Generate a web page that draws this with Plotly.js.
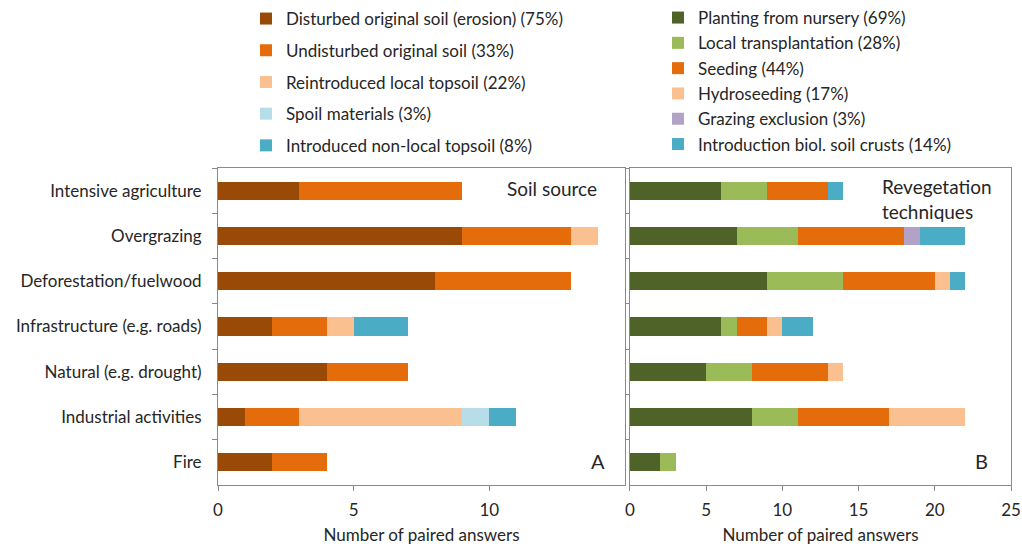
<!DOCTYPE html>
<html>
<head>
<meta charset="utf-8">
<script src="https://cdn.plot.ly/plotly-3.0.1.min.js"></script>
<style>html,body{margin:0;padding:0;background:#fff;}#chart{width:1022px;height:547px;}</style>
</head>
<body>
<div id="chart"></div>
<script>
// Categories (top to bottom)
const categories = ['Intensive agriculture','Overgrazing','Deforestation/fuelwood','Infrastructure (e.g. roads)','Natural (e.g. drought)','Industrial activities','Fire'];

// Panel A: soil source
const soilNames = ['Disturbed original soil (erosion) (75%)','Undisturbed original soil (33%)','Reintroduced local topsoil (22%)','Spoil materials (3%)','Introduced non-local topsoil (8%)'];
const disturbed    = [3, 9, 8, 2, 4, 1, 2];
const undisturbed  = [6, 4, 5, 2, 3, 2, 2];
const reintroduced = [0, 1, 0, 1, 0, 6, 0];
const spoil        = [0, 0, 0, 0, 0, 1, 0];
const nonLocal     = [0, 0, 0, 2, 0, 1, 0];

// Panel B: revegetation techniques
const revegNames = ['Planting from nursery (69%)','Local transplantation (28%)','Seeding (44%)','Hydroseeding (17%)','Grazing exclusion (3%)','Introduction biol. soil crusts (14%)'];
const planting   = [6, 7, 9, 6, 5, 8, 2];
const transplant = [3, 4, 5, 1, 3, 3, 1];
const seeding    = [4, 7, 6, 2, 5, 6, 0];
const hydro      = [0, 0, 1, 1, 1, 5, 0];
const grazing    = [0, 1, 0, 0, 0, 0, 0];
const crusts     = [1, 3, 1, 2, 0, 0, 0];

const soilColors  = ['#9A4A07','#E46C0A','#FAC090','#B7DEE8','#4BACC6'];
const revegColors = ['#4F6228','#9BBB59','#E46C0A','#FAC090','#B3A2C7','#4BACC6'];

const soilSeries  = [disturbed, undisturbed, reintroduced, spoil, nonLocal];
const revegSeries = [planting, transplant, seeding, hydro, grazing, crusts];

const traces = [];
soilSeries.forEach((vals, i) => {
  traces.push({
    type: 'bar', orientation: 'h', x: vals, y: categories, name: soilNames[i],
    xaxis: 'x', yaxis: 'y', legend: 'legend', legendgroup: 'a' + i,
    marker: {color: soilColors[i], line: {width: 0}}, hoverinfo: 'x+y+name'
  });
});
revegSeries.forEach((vals, i) => {
  traces.push({
    type: 'bar', orientation: 'h', x: vals, y: categories, name: revegNames[i],
    xaxis: 'x2', yaxis: 'y2', legend: 'legend2', legendgroup: 'b' + i,
    marker: {color: revegColors[i], line: {width: 0}}, hoverinfo: 'x+y+name'
  });
});

const axisColor = '#8a8a8a';
const textColor = '#262626';
const fontFam = 'Lato, "Open Sans", sans-serif';

// plot area: left 218, right 1011, top 168, bottom 485
const pxX = px => (px - 218) / 793;
const pxY = py => (485 - py) / 317;

const layout = {
  width: 1022, height: 547,
  margin: {l: 218, r: 11, t: 168, b: 62, autoexpand: false},
  paper_bgcolor: '#fff', plot_bgcolor: '#fff',
  barmode: 'stack', bargap: 0.6,
  font: {family: fontFam, size: 16, color: textColor},
  xaxis: {
    domain: [0, 0.5132], range: [0, 15], tickvals: [0, 5, 10],
    ticks: 'outside', ticklen: 5, tickcolor: axisColor,
    showline: true, linecolor: axisColor, mirror: true, showgrid: false, zeroline: false,
    tickfont: {size: 17, color: textColor}, ticklabelstandoff: 5,
    title: {text: 'Number of paired answers', font: {size: 17, color: textColor}, standoff: 9}
  },
  yaxis: {
    type: 'category', autorange: 'reversed', anchor: 'x',
    tickson: 'boundaries', ticks: 'outside', ticklen: 5, tickcolor: axisColor,
    showline: true, linecolor: axisColor, mirror: true, showgrid: false,
    tickfont: {size: 17, color: textColor}, ticklabelstandoff: 12
  },
  xaxis2: {
    domain: [0.5195, 1], range: [0, 25], dtick: 5, anchor: 'y2',
    ticks: 'outside', ticklen: 5, tickcolor: axisColor,
    showline: true, linecolor: axisColor, mirror: true, showgrid: false, zeroline: false,
    tickfont: {size: 17, color: textColor}, ticklabelstandoff: 5,
    title: {text: 'Number of paired answers', font: {size: 17, color: textColor}, standoff: 9}
  },
  yaxis2: {
    type: 'category', autorange: 'reversed', anchor: 'x2',
    tickson: 'boundaries', ticks: 'outside', ticklen: 3, tickcolor: axisColor,
    showline: true, linecolor: axisColor, mirror: true, showgrid: false,
    showticklabels: false
  },
  legend: {
    xref: 'paper', yref: 'paper', x: pxX(246), y: pxY(1),
    xanchor: 'left', yanchor: 'top', traceorder: 'grouped', tracegroupgap: 6.6,
    font: {size: 17, color: textColor}, bgcolor: 'rgba(0,0,0,0)'
  },
  legend2: {
    xref: 'paper', yref: 'paper', x: pxX(658), y: pxY(0),
    xanchor: 'left', yanchor: 'top', traceorder: 'grouped', tracegroupgap: 0.2,
    font: {size: 17, color: textColor}, bgcolor: 'rgba(0,0,0,0)'
  },
  annotations: [
    {xref: 'x', yref: 'paper', x: 14.05, y: 1, yshift: -7, xanchor: 'right', yanchor: 'top',
     text: 'Soil source', showarrow: false, font: {size: 19, color: textColor}},
    {xref: 'x', yref: 'paper', x: 14.35, y: 0, yshift: 10, xanchor: 'right', yanchor: 'bottom',
     text: 'A', showarrow: false, font: {size: 20, color: textColor}},
    {xref: 'x2', yref: 'paper', x: 16.4, y: 1, yshift: -5, xanchor: 'left', yanchor: 'top', align: 'left',
     text: 'Revegetation<br>techniques', showarrow: false, font: {size: 19, color: textColor}},
    {xref: 'x2', yref: 'paper', x: 23.6, y: 0, yshift: 10, xanchor: 'right', yanchor: 'bottom',
     text: 'B', showarrow: false, font: {size: 20, color: textColor}}
  ]
};

Plotly.newPlot('chart', traces, layout, {displayModeBar: false, staticPlot: true});
</script>
</body>
</html>
